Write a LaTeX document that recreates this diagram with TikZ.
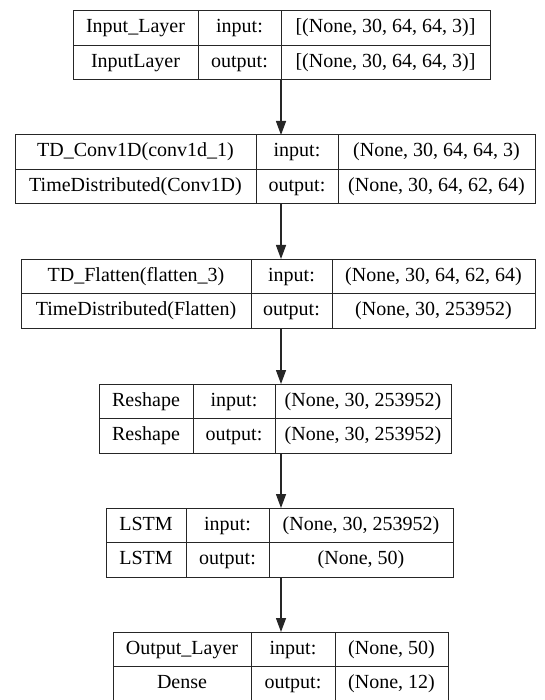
\documentclass[tikz,border=0pt]{standalone}
\usepackage{fontspec}
\setmainfont{Liberation Serif}
\usetikzlibrary{arrows.meta}

\begin{document}
\begin{tikzpicture}[x=1pt,y=-1pt,
        cell/.style={draw=black!85,line width=1pt,inner sep=0pt,outer sep=0pt,
            anchor=north west,minimum height=34.5pt,text height=13.5pt,text depth=4pt,
            font=\fontsize{20}{24}\selectfont},
        layerbox/.style={inner sep=0pt,outer sep=0pt},
        flow/.style={line width=1.3pt,black!85,-{Triangle[length=14pt,width=10pt]}}]
    \useasboundingbox (0,0) rectangle (545,700);

    \coordinate (axis) at (281,0);

    % one record per layer: name/kind | input:/output: | shapes
    \foreach \i/\t/\l/\a/\b/\r/\nm/\kd/\si/\so in {
            1/11/73/198/281/490/Input\_Layer/InputLayer/{[(None, 30, 64, 64, 3)]}/{[(None, 30, 64, 64, 3)]},
            2/135/15/256/338/535/TD\_Conv1D(conv1d\_1)/TimeDistributed(Conv1D)/{(None, 30, 64, 64, 3)}/{(None, 30, 64, 62, 64)},
            3/259/21/251/332/535/TD\_Flatten(flatten\_3)/TimeDistributed(Flatten)/{(None, 30, 64, 62, 64)}/{(None, 30, 253952)},
            4/384/99/193/275/451/Reshape/Reshape/{(None, 30, 253952)}/{(None, 30, 253952)},
            5/508/106/186/269/453/LSTM/LSTM/{(None, 30, 253952)}/{(None, 50)},
            6/632/113/251/335/448/Output\_Layer/Dense/{(None, 50)}/{(None, 12)}}{
        \pgfmathsetmacro\wa{\a-\l}
        \pgfmathsetmacro\wb{\b-\a}
        \pgfmathsetmacro\wc{\r-\b}
        \pgfmathsetmacro\wall{\r-\l}
        \pgfmathsetmacro\mid{\t+34.5}
        \pgfmathsetmacro\cx{(\l+\r)/2}

        \node[cell,minimum width=\wa pt] (name\i) at (\l,\t) {\nm};
        \node[cell,minimum width=\wb pt] (inlbl\i) at (\a,\t) {input:};
        \node[cell,minimum width=\wc pt] (inshape\i) at (\b,\t) {\si};
        \node[cell,minimum width=\wa pt] (kind\i) at (\l,\mid) {\kd};
        \node[cell,minimum width=\wb pt] (outlbl\i) at (\a,\mid) {output:};
        \node[cell,minimum width=\wc pt] (outshape\i) at (\b,\mid) {\so};

        \node[layerbox,minimum width=\wall pt,minimum height=69pt] (box\i) at (\cx,\mid) {};
    }

    \foreach \i [evaluate=\i as \j using int(\i+1)] in {1,...,5}
        \draw[flow] (box\i.south -| axis) -- (box\j.north -| axis);
\end{tikzpicture}
\end{document}
